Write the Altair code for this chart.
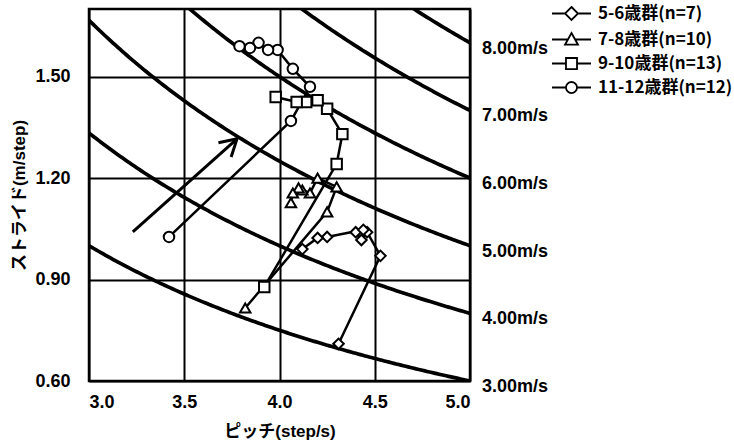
import altair as alt
import pandas as pd
import numpy as np

# ---------------- data ----------------
groups = ["5-6歳群(n=7)", "7-8歳群(n=10)", "9-10歳群(n=13)", "11-12歳群(n=12)"]

pitch_5_6 = [4.31, 4.53, 4.46, 4.43, 4.40, 4.44, 4.25, 4.20, 4.12]
stride_5_6 = [0.71, 0.97, 1.04, 1.017, 1.04, 1.047, 1.026, 1.023, 0.99]

pitch_7_8 = [3.82, 4.25, 4.30, 4.20, 4.16, 4.12, 4.10, 4.07, 4.06]
stride_7_8 = [0.816, 1.10, 1.174, 1.20, 1.156, 1.165, 1.171, 1.156, 1.127]

pitch_9_10 = [3.92, 4.30, 4.33, 4.25, 4.20, 4.14, 4.09, 3.98]
stride_9_10 = [0.878, 1.242, 1.33, 1.405, 1.43, 1.425, 1.425, 1.44]

pitch_11_12 = [3.42, 4.06, 4.16, 4.07, 3.99, 3.94, 3.89, 3.845, 3.79]
stride_11_12 = [1.026, 1.369, 1.47, 1.523, 1.579, 1.579, 1.60, 1.585, 1.59]

speeds = [3, 4, 5, 6, 7, 8]
speed_labels = ["3.00m/s", "4.00m/s", "5.00m/s", "6.00m/s", "7.00m/s", "8.00m/s"]

x_ticks = [3.0, 3.5, 4.0, 4.5, 5.0]
y_ticks = [0.60, 0.90, 1.20, 1.50]
x_domain = [3.0, 5.0]
y_domain = [0.60, 1.70]

arrow_pitch = [3.23, 3.777]
arrow_stride = [1.041, 1.316]

# ---------------- tables ----------------
series = [
    (groups[0], pitch_5_6, stride_5_6),
    (groups[1], pitch_7_8, stride_7_8),
    (groups[2], pitch_9_10, stride_9_10),
    (groups[3], pitch_11_12, stride_11_12),
]
rows = []
for g, ps, ss in series:
    for i, (p, s) in enumerate(zip(ps, ss)):
        rows.append({"group": g, "pitch": p, "stride": s, "order": i})
df = pd.DataFrame(rows)

pitch_grid = np.linspace(x_domain[0], x_domain[1], 161)
df_curve = pd.DataFrame([{"speed": v, "pitch": float(p)} for v in speeds for p in pitch_grid])

df_lab = pd.DataFrame({"speed": speeds, "label": speed_labels})
df_lab["pitch"] = x_domain[1]

df_arrow = pd.DataFrame({"pitch": arrow_pitch, "stride": arrow_stride, "order": [0, 1]})
df_head = df_arrow.iloc[[1]]

# ---------------- encodings ----------------
LAT = "Liberation Sans"
MIX = "Liberation Sans, Noto Sans CJK JP"

X = alt.X("pitch:Q", scale=alt.Scale(domain=x_domain, nice=False, zero=False),
          axis=alt.Axis(values=x_ticks, format=".1f", title="ピッチ(step/s)",
                        labelPadding=12, titlePadding=12))
Y = alt.Y("stride:Q", scale=alt.Scale(domain=y_domain, nice=False, zero=False),
          axis=alt.Axis(values=y_ticks, format=".2f", title="ストライド(m/step)",
                        labelPadding=19, titlePadding=6))

curves = alt.Chart(df_curve).transform_calculate(
    stride="datum.speed / datum.pitch"
).mark_line(color="black", strokeWidth=3.7, clip=True).encode(
    x=X, y=Y, detail="speed:N", order="pitch:Q"
)

lines = alt.Chart(df).mark_line(color="black", strokeWidth=2.5).encode(
    x=X, y=Y, detail="group:N", order="order:Q"
)

points = alt.Chart(df).mark_point(
    filled=True, fill="white", stroke="black", strokeWidth=2, size=110, opacity=1
).encode(
    x=X, y=Y,
    shape=alt.Shape("group:N",
                    scale=alt.Scale(domain=groups,
                                    range=["diamond", "triangle-up", "square", "circle"]),
                    legend=None),
)

leg_paths = [
    "M-3,0H-1M1,0H3M0,-1L1,0L0,1L-1,0Z",
    "M-3,0H-0.556M0.556,0H3M0,-1L1,0.8L-1,0.8Z",
    "M-3,0H-0.85M0.85,0H3M-0.85,-0.85H0.85V0.85H-0.85Z",
    "M-3,0H-0.85M0.85,0H3M-0.85,0A0.85,0.85,0,1,1,0.85,0A0.85,0.85,0,1,1,-0.85,0Z",
]

legend_layer = alt.Chart(df).transform_filter("datum.pitch < 0").mark_point(
    filled=False, color="black", strokeWidth=1.8, opacity=1
).encode(
    x=X, y=Y,
    shape=alt.Shape("group:N",
                    scale=alt.Scale(domain=groups, range=leg_paths),
                    legend=alt.Legend(
                        title=None, orient="none", legendX=474, legendY=-4,
                        symbolSize=169, symbolStrokeWidth=1.8,
                        symbolStrokeColor="black", symbolOpacity=1,
                        labelFont="Noto Sans CJK JP", labelFontWeight="bold",
                        labelFontSize=17, labelColor="black", labelOffset=18,
                        rowPadding=5, labelLimit=300,
                    )),
)

arrow_line = alt.Chart(df_arrow).mark_line(color="black", strokeWidth=3).encode(
    x=X, y=Y, order="order:Q"
)
arrow_head = alt.Chart(df_head).mark_point(
    shape="M-0.5,0.866L0,0L0.5,0.866", angle=48, size=1444, filled=False,
    stroke="black", strokeWidth=3, opacity=1, strokeJoin="miter"
).encode(x=X, y=Y)

labels = alt.Chart(df_lab).transform_calculate(
    stride="datum.speed / datum.pitch"
).mark_text(
    align="left", baseline="middle", dx=12, dy=6, font=LAT,
    fontWeight="bold", fontSize=18, color="black"
).encode(x=X, y=Y, text="label:N")

chart = alt.layer(
    curves, lines, points, arrow_line, arrow_head, labels, legend_layer
).resolve_scale(shape="independent").properties(
    width=381, height=372,
    background="white",
    autosize=alt.AutoSizeParams(type="none"),
    padding={"left": 89, "top": 9, "right": 264, "bottom": 66},
).configure_view(
    stroke="black", strokeWidth=2.5
).configure_axis(
    grid=True, gridColor="black", gridWidth=2, gridOpacity=1,
    domain=False, ticks=False, tickSize=0,
    labelFont=LAT, labelFontWeight="bold", labelFontSize=18, labelColor="black",
    titleFont=MIX, titleFontWeight="bold", titleFontSize=17, titleColor="black",
)

chart.save("out.html", embed_options={"renderer": "svg", "actions": False})
